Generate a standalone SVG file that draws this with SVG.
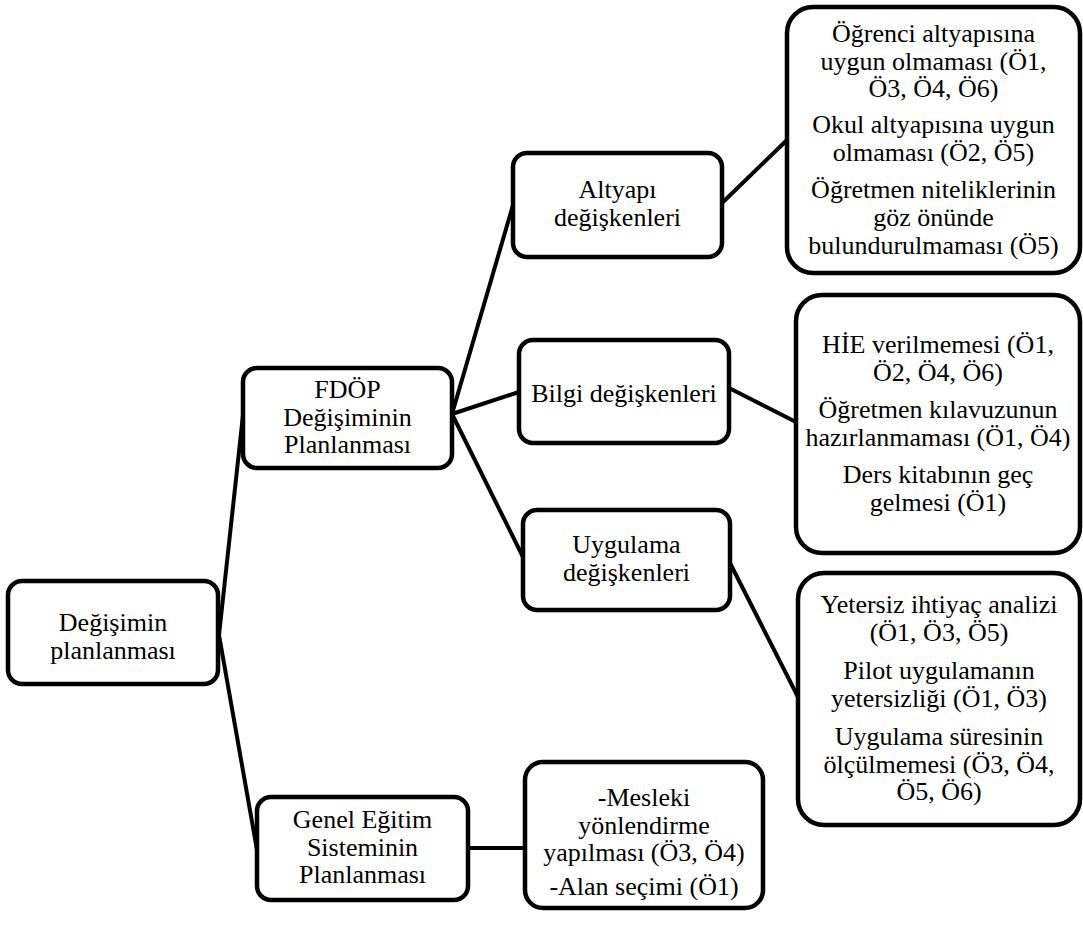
<svg xmlns="http://www.w3.org/2000/svg" width="1083" height="938" viewBox="0 0 1083 938">
  <style>
    .box { fill: #ffffff; stroke: #000000; stroke-width: 4.5; }
    .conn { stroke: #000000; stroke-width: 4; fill: none; stroke-linecap: round; }
    .lbl { font-family: 'Liberation Serif', 'Times New Roman', serif; font-size: 26px; fill: #000000; text-anchor: middle; }
  </style>
  <rect width="1083" height="938" fill="#ffffff"/>

  <!-- connectors -->
  <g id="connectors">
    <line class="conn" x1="219" y1="635" x2="243" y2="415"/>
    <line class="conn" x1="219" y1="635" x2="257" y2="850"/>
    <line class="conn" x1="452" y1="414" x2="513" y2="205"/>
    <line class="conn" x1="452" y1="414" x2="519" y2="392"/>
    <line class="conn" x1="452" y1="414" x2="523" y2="557"/>
    <line class="conn" x1="722" y1="203" x2="787" y2="140"/>
    <line class="conn" x1="729" y1="388" x2="796" y2="422"/>
    <line class="conn" x1="730" y1="563" x2="798" y2="697"/>
    <line class="conn" x1="468" y1="848" x2="525" y2="848"/>
  </g>

  <g id="n-degisimin">
    <rect class="box" x="8" y="581" width="210" height="103" rx="14"/>
    <text class="lbl" x="113" y="631">Değişimin</text>
    <text class="lbl" x="113" y="659">planlanması</text>
  </g>

  <g id="n-fdop">
    <rect class="box" x="243" y="368" width="209" height="100" rx="14"/>
    <text class="lbl" x="347.5" y="398">FDÖP</text>
    <text class="lbl" x="347.5" y="425.5">Değişiminin</text>
    <text class="lbl" x="347.5" y="453">Planlanması</text>
  </g>

  <g id="n-genel">
    <rect class="box" x="257" y="797" width="211" height="103" rx="14"/>
    <text class="lbl" x="362.5" y="828">Genel Eğitim</text>
    <text class="lbl" x="362.5" y="856">Sisteminin</text>
    <text class="lbl" x="362.5" y="883">Planlanması</text>
  </g>

  <g id="n-altyapi">
    <rect class="box" x="513" y="153" width="209" height="104" rx="14"/>
    <text class="lbl" x="617.5" y="198">Altyapı</text>
    <text class="lbl" x="617.5" y="226">değişkenleri</text>
  </g>

  <g id="n-bilgi">
    <rect class="box" x="519" y="340" width="210" height="103" rx="14"/>
    <text class="lbl" x="624" y="402">Bilgi değişkenleri</text>
  </g>

  <g id="n-uygulama">
    <rect class="box" x="523" y="510" width="207" height="100" rx="14"/>
    <text class="lbl" x="626.5" y="553">Uygulama</text>
    <text class="lbl" x="626.5" y="581">değişkenleri</text>
  </g>

  <g id="n-altyapi-detay">
    <rect class="box" x="787" y="7" width="293" height="266" rx="26"/>
    <text class="lbl" x="933.5" y="42">Öğrenci altyapısına</text>
    <text class="lbl" x="933.5" y="70">uygun olmaması (Ö1,</text>
    <text class="lbl" x="933.5" y="97">Ö3, Ö4, Ö6)</text>
    <text class="lbl" x="933.5" y="133">Okul altyapısına uygun</text>
    <text class="lbl" x="933.5" y="161">olmaması (Ö2, Ö5)</text>
    <text class="lbl" x="933.5" y="198">Öğretmen niteliklerinin</text>
    <text class="lbl" x="933.5" y="226">göz önünde</text>
    <text class="lbl" x="933.5" y="254">bulundurulmaması (Ö5)</text>
  </g>

  <g id="n-bilgi-detay">
    <rect class="box" x="796" y="295" width="284" height="258" rx="26"/>
    <text class="lbl" x="938" y="353">HİE verilmemesi (Ö1,</text>
    <text class="lbl" x="938" y="381">Ö2, Ö4, Ö6)</text>
    <text class="lbl" x="938" y="418">Öğretmen kılavuzunun</text>
    <text class="lbl" x="938" y="446">hazırlanmaması (Ö1, Ö4)</text>
    <text class="lbl" x="938" y="483">Ders kitabının geç</text>
    <text class="lbl" x="938" y="511">gelmesi (Ö1)</text>
  </g>

  <g id="n-uygulama-detay">
    <rect class="box" x="798" y="573" width="282" height="252" rx="26"/>
    <text class="lbl" x="939" y="613">Yetersiz ihtiyaç analizi</text>
    <text class="lbl" x="939" y="641">(Ö1, Ö3, Ö5)</text>
    <text class="lbl" x="939" y="679">Pilot uygulamanın</text>
    <text class="lbl" x="939" y="707">yetersizliği (Ö1, Ö3)</text>
    <text class="lbl" x="939" y="745">Uygulama süresinin</text>
    <text class="lbl" x="939" y="773">ölçülmemesi (Ö3, Ö4,</text>
    <text class="lbl" x="939" y="800">Ö5, Ö6)</text>
  </g>

  <g id="n-genel-detay">
    <rect class="box" x="525" y="762" width="238" height="146" rx="18"/>
    <text class="lbl" x="644" y="806">-Mesleki</text>
    <text class="lbl" x="644" y="834">yönlendirme</text>
    <text class="lbl" x="644" y="861">yapılması (Ö3, Ö4)</text>
    <text class="lbl" x="644" y="895">-Alan seçimi (Ö1)</text>
  </g>
</svg>
